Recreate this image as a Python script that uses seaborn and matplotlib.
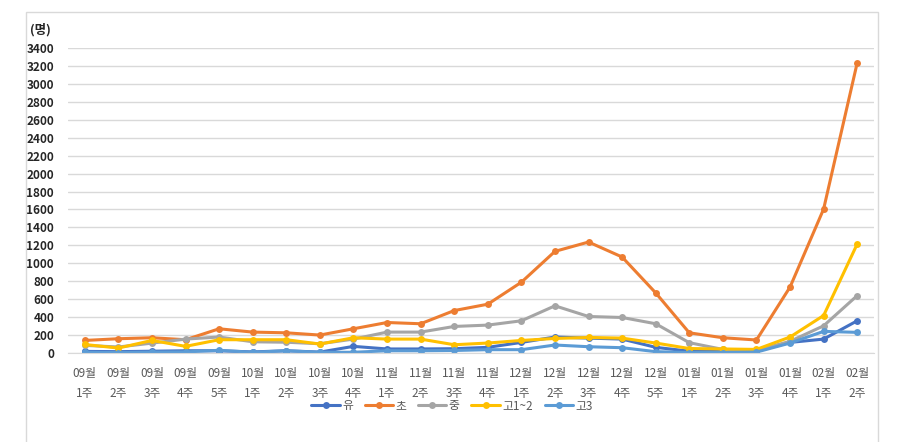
import pandas as pd
import matplotlib.pyplot as plt
import seaborn as sns
from matplotlib.patches import Rectangle

# 주차 라벨
weeks = ['09월\n1주', '09월\n2주', '09월\n3주', '09월\n4주', '09월\n5주',
         '10월\n1주', '10월\n2주', '10월\n3주', '10월\n4주',
         '11월\n1주', '11월\n2주', '11월\n3주', '11월\n4주',
         '12월\n1주', '12월\n2주', '12월\n3주', '12월\n4주', '12월\n5주',
         '01월\n1주', '01월\n2주', '01월\n3주', '01월\n4주',
         '02월\n1주', '02월\n2주']

# 학교급별 값
yu = [18, 15, 20, 25, 25, 12, 25, 10, 74, 45, 45, 48, 63, 118, 178, 166, 155, 63, 20, 15, 20, 118, 155, 359]
cho = [140, 159, 170, 148, 270, 233, 225, 200, 270, 340, 326, 473, 544, 789, 1133, 1237, 1070, 670, 225, 170, 145, 735, 1605, 3235]
jung = [85, 67, 110, 155, 178, 125, 120, 103, 155, 233, 233, 296, 311, 359, 526, 407, 396, 326, 115, 40, 30, 130, 303, 640]
go12 = [95, 55, 140, 74, 148, 148, 148, 100, 170, 155, 155, 92, 111, 140, 162, 173, 166, 111, 50, 45, 40, 178, 418, 1215]
go3 = [8, 5, 10, 12, 30, 8, 25, 8, 8, 25, 25, 28, 37, 37, 89, 70, 59, 15, 5, 5, 10, 111, 241, 230]

series = ['유', '초', '중', '고1~2', '고3']
colors = ['#4472C4', '#ED7D31', '#A5A5A5', '#FFC000', '#5B9BD5']

rows = []
for name, vals in zip(series, [yu, cho, jung, go12, go3]):
    for w, v in zip(weeks, vals):
        rows.append({'week': w, 'value': v, 'group': name})
df = pd.DataFrame(rows)

sns.set_style('white')
plt.rcParams['font.family'] = ['Noto Sans CJK KR', 'DejaVu Sans']

fig = plt.figure(figsize=(9.22, 4.42), dpi=100)
ax = fig.add_axes([68 / 922, 1 - 353 / 442, (874 - 68) / 922, (353 - 48) / 442])

sns.lineplot(data=df, x='week', y='value', hue='group', hue_order=series,
             palette=colors, marker='o', markersize=5, markeredgewidth=0,
             linewidth=2.2, sort=False, ax=ax, legend=True)

ax.set_ylim(0, 3400)
ax.set_yticks(range(0, 3401, 200))
ax.set_xlim(-0.5, len(weeks) - 0.5)
ax.yaxis.grid(True, color='#D9D9D9', linewidth=1)
ax.set_axisbelow(True)
for s in ax.spines.values():
    s.set_visible(False)
ax.spines['bottom'].set_visible(True)
ax.spines['bottom'].set_color('#D9D9D9')
ax.set_xlabel('')
ax.set_ylabel('')
ax.tick_params(axis='y', length=0, labelsize=8.5, labelcolor='#262626', pad=10)
ax.tick_params(axis='x', length=0, labelsize=8.5, labelcolor='#595959', pad=10)
for lab in ax.get_yticklabels():
    lab.set_fontweight('bold')
for lab in ax.get_xticklabels():
    lab.set_linespacing(1.7)

ax.text(30 / 922, 1 - 30 / 442, '(명)', transform=fig.transFigure, fontsize=9,
        fontweight='bold', color='#262626', va='center', ha='left')

ax.get_legend().remove()
handles, labels = ax.get_legend_handles_labels()
fig.legend(handles, labels, loc='center', bbox_to_anchor=(452 / 922, 1 - 406 / 442),
           ncol=5, frameon=False, fontsize=8.5, handlelength=2.4, columnspacing=1.0,
           handletextpad=0.2, labelcolor='#595959')

fig.patches.append(Rectangle((26 / 922, -0.1), (878 - 26) / 922, 1 - 12 / 442 + 0.1,
                             transform=fig.transFigure, fill=False,
                             edgecolor='#D9D9D9', linewidth=1))

fig.savefig('out.png', dpi=100)
